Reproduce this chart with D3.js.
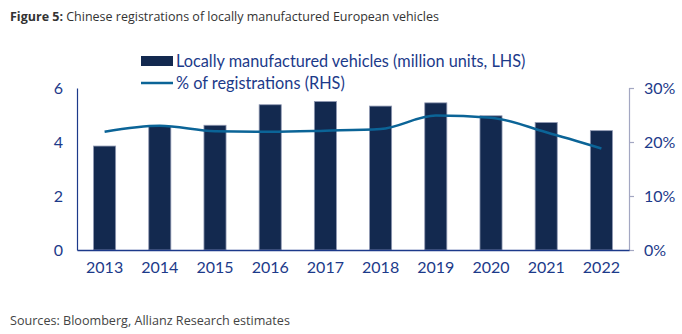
<!DOCTYPE html>
<html>
<head>
<meta charset="utf-8">
<script src="https://cdn.jsdelivr.net/npm/d3@7"></script>
<style>
  body { margin: 0; background: #fff; }
  svg text { font-family: Lato, "Open Sans", sans-serif; }
  svg text.note { font-family: "Open Sans", Lato, sans-serif; }
</style>
</head>
<body>
<svg id="chart" width="682" height="334"></svg>
<script>
var years = ["2013", "2014", "2015", "2016", "2017", "2018", "2019", "2020", "2021", "2022"];
var vehicles = [3.85, 4.57, 4.62, 5.38, 5.50, 5.33, 5.45, 4.97, 4.72, 4.42];
var regShare = [21.9, 23.0, 22.0, 21.9, 22.1, 22.4, 24.9, 24.5, 21.8, 18.8];
var leftTicks = [0, 2, 4, 6];
var rightTicks = [0, 10, 20, 30];

var navy = "#13294f";
var teal = "#0b6497";
var tickColor = "#1c3a8a";

var svg = d3.select("#chart");
var margins = { left: 77, right: 53, top: 88, bottom: 84 };
var width = 682, height = 334;
var plotBottom = height - margins.bottom;

var xScale = d3.scaleBand()
    .domain(years)
    .range([margins.left, width - margins.right])
    .paddingInner(0.6)
    .paddingOuter(0.3);
var yLeft = d3.scaleLinear().domain([0, 6]).range([plotBottom, margins.top]);
var yRight = d3.scaleLinear().domain([0, 30]).range([plotBottom, margins.top]);

// Title and source
svg.append("text")
    .attr("class", "note")
    .attr("x", 10).attr("y", 21)
    .attr("fill", "#333").style("font-size", "12.5px")
    .call(function(t){
        t.append("tspan").attr("font-weight", "bold").text("Figure 5:");
        t.append("tspan").text(" Chinese registrations of locally manufactured European vehicles");
    });
svg.append("text")
    .attr("class", "note")
    .attr("x", 10).attr("y", 325)
    .attr("fill", "#444").style("font-size", "12.6px")
    .text("Sources: Bloomberg, Allianz Research estimates");

// Bars
svg.append("g").selectAll("rect")
    .data(vehicles)
    .enter()
    .append("rect")
    .attr("x", function(d, i){ return xScale(years[i]); })
    .attr("y", function(d){ return yLeft(d); })
    .attr("width", xScale.bandwidth())
    .attr("height", function(d){ return plotBottom - yLeft(d); })
    .attr("fill", navy)
    .attr("stroke", "#8f98b2")
    .attr("stroke-width", 0.8);

// Share line
var line = d3.line()
    .x(function(d, i){ return xScale(years[i]) + xScale.bandwidth() / 2; })
    .y(function(d){ return yRight(d); })
    .curve(d3.curveMonotoneX);
svg.append("path")
    .datum(regShare)
    .attr("d", line)
    .attr("fill", "none")
    .attr("stroke", teal)
    .attr("stroke-width", 2.5);

// Axes
var leftAxis = svg.append("g")
    .attr("transform", `translate(${margins.left}, 0)`)
    .call(d3.axisLeft(yLeft).tickValues(leftTicks).tickSize(0).tickPadding(14).tickFormat(d3.format("d")));
leftAxis.select(".domain").attr("stroke", "#1c3a8a").attr("stroke-width", 1.2);

var rightAxis = svg.append("g")
    .attr("transform", `translate(${width - margins.right}, 0)`)
    .call(d3.axisRight(yRight).tickValues(rightTicks).tickSizeInner(5).tickSizeOuter(5).tickPadding(10)
        .tickFormat(function(d){ return d + "%"; }));
rightAxis.select(".domain").attr("stroke", "#a3a7c2").attr("stroke-width", 1.2);
rightAxis.selectAll(".tick line").attr("stroke", "#a3a7c2").attr("stroke-width", 1.2);

var bottomAxis = svg.append("g")
    .attr("transform", `translate(0, ${plotBottom})`)
    .call(d3.axisBottom(xScale).tickSize(0).tickPadding(12));
bottomAxis.select(".domain").attr("stroke", "#1c3a8a").attr("stroke-width", 1.5);

svg.selectAll(".tick text")
    .attr("fill", tickColor)
    .style("font-size", "16px");

// Legend
var legend = svg.append("g");
legend.append("rect")
    .attr("x", 141).attr("y", 56).attr("width", 32).attr("height", 10)
    .attr("fill", navy);
legend.append("text")
    .attr("x", 176).attr("y", 66.5)
    .attr("fill", tickColor).style("font-size", "16.3px")
    .text("Locally manufactured vehicles (million units, LHS)");
legend.append("line")
    .attr("x1", 141).attr("x2", 173).attr("y1", 83).attr("y2", 83)
    .attr("stroke", teal).attr("stroke-width", 2.5);
legend.append("text")
    .attr("x", 176).attr("y", 88.5)
    .attr("fill", tickColor).style("font-size", "16.3px")
    .text("% of registrations (RHS)");
</script>
</body>
</html>
